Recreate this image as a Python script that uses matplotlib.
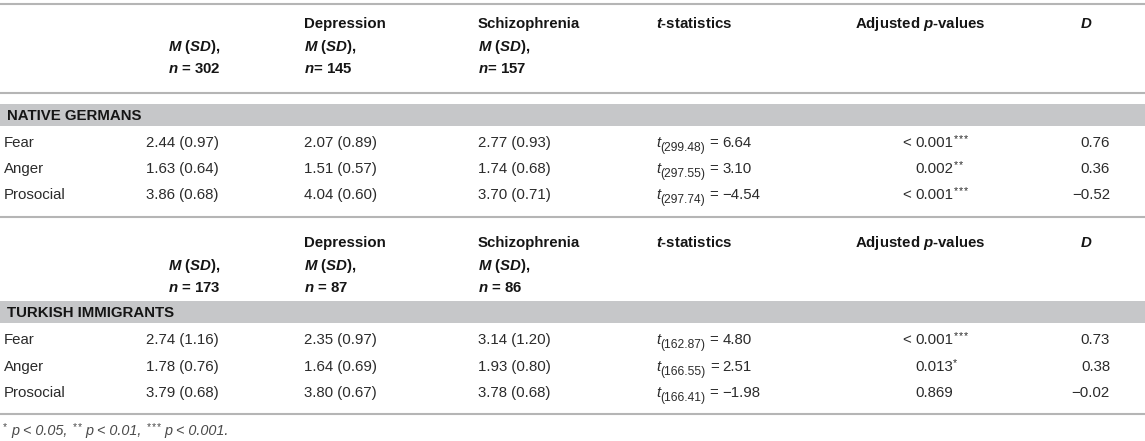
import matplotlib
matplotlib.use('Agg')
import matplotlib.pyplot as plt

# Table content
groups = ['NATIVE GERMANS', 'TURKISH IMMIGRANTS']
measures = ['Fear', 'Anger', 'Prosocial']
col_titles = ['', 'Depression', 'Schizophrenia']

n_german = [302, 145, 157]
n_turkish = [173, 87, 86]
n_eq_german = [' = ', '= ', '= ']
n_eq_turkish = [' = ', ' = ', ' = ']

means_german = [[2.44, 2.07, 2.77], [1.63, 1.51, 1.74], [3.86, 4.04, 3.70]]
sds_german = [[0.97, 0.89, 0.93], [0.64, 0.57, 0.68], [0.68, 0.60, 0.71]]
means_turkish = [[2.74, 2.35, 3.14], [1.78, 1.64, 1.93], [3.79, 3.80, 3.78]]
sds_turkish = [[1.16, 0.97, 1.20], [0.76, 0.69, 0.80], [0.68, 0.67, 0.68]]

df_german = [299.48, 297.55, 297.74]
t_german = [6.64, 3.10, -4.54]
df_turkish = [162.87, 166.55, 166.41]
t_turkish = [4.80, 2.51, -1.98]

p_german = ['< 0.001', '0.002', '< 0.001']
stars_german = ['***', '**', '***']
p_turkish = ['< 0.001', '0.013', '0.869']
stars_turkish = ['***', '*', '']

d_german = [0.76, 0.36, -0.52]
d_turkish = [0.73, 0.38, -0.02]

plt.rcParams['font.family'] = ['Liberation Sans', 'DejaVu Sans']
plt.rcParams['mathtext.fontset'] = 'custom'
plt.rcParams['mathtext.rm'] = 'Liberation Sans'
plt.rcParams['mathtext.it'] = 'Liberation Sans:italic'
plt.rcParams['mathtext.bf'] = 'Liberation Sans:bold'
plt.rcParams['mathtext.bfit'] = 'Liberation Sans:bold:italic'

W, H = 1145, 441
fig = plt.figure(figsize=(W / 100, H / 100), dpi=100)
ax = fig.add_axes([0, 0, 1, 1])
ax.set_xlim(0, W)
ax.set_ylim(H, 0)
ax.axis('off')
rend = fig.canvas.get_renderer()

FS = 10.8
TXT = '#2b2b2b'
HEAD = '#151515'
LINE = '#b5b5b5'
BAND = '#c6c7c9'

# column x positions (pixels)
x_label = 4
x_cols = [146, 304, 478]
x_head1 = 168
x_t = 656
x_p = 915
x_phead = 855
x_d = 1110
x_dhead = 1080


def num(v):
    s = '%.2f' % abs(v)
    return ('\u2212' + s) if v < 0 else s


def hline(y):
    ax.plot([0, W], [y, y], color=LINE, lw=1.5, solid_capstyle='butt')


def txt(x, y, s, **kw):
    # y is the visual centre of the cap height; convert to baseline
    kw.setdefault('fontsize', FS)
    kw.setdefault('color', TXT)
    return ax.text(x, y + 5.4, s, va='baseline', **kw)


def runs(x, y, parts):
    # parts: (text, kwargs, dy, gap_before)
    for s, kw, dy, gap in parts:
        x += gap
        if not s:
            continue
        t = txt(x, y + dy, s, **kw)
        x = t.get_window_extent(rend).x1
    return x


def star_parts(stars, kw, dy, gap):
    # small raised asterisks, drawn one by one so they don't crowd
    return [('*', kw, dy, gap if k == 0 else 1) for k in range(len(stars))]


def section(head_y, band, rows_y, group, n_vals, n_eq, means, sds, dfs, ts, ps, stars, ds):
    y_title, y_msd, y_n = head_y
    for j in range(3):
        xh = x_head1 if j == 0 else x_cols[j]
        if col_titles[j]:
            txt(xh, y_title, col_titles[j], weight='bold', color=HEAD)
        txt(xh, y_msd, r'$\mathbfit{M}$ ($\mathbfit{SD}$),', weight='bold', color=HEAD)
        txt(xh, y_n, r'$\mathbfit{n}$' + n_eq[j] + str(n_vals[j]), weight='bold', color=HEAD)
    txt(x_t, y_title, r'$\mathbfit{t}$-statistics', weight='bold', color=HEAD)
    txt(x_phead, y_title, r'Adjusted $\mathbfit{p}$-values', weight='bold', color=HEAD)
    txt(x_dhead, y_title, r'$\mathbfit{D}$', weight='bold', color=HEAD)

    ax.axhspan(band[0], band[1], color=BAND, lw=0)
    txt(x_label + 3, (band[0] + band[1]) / 2, group, weight='bold', color=HEAD)

    sup = dict(fontsize=FS * 0.72)
    for i, y in enumerate(rows_y):
        txt(x_label, y, measures[i])
        for j in range(3):
            txt(x_cols[j], y, '%.2f (%.2f)' % (means[i][j], sds[i][j]))
        runs(x_t, y, [('t', dict(style='italic'), 0, 0),
                      ('(%.2f)' % dfs[i], dict(fontsize=FS * 0.8), 4, 0.5),
                      ('=', {}, 0, 4),
                      (num(ts[i]), {}, 0, 4)])
        p = ps[i]
        if p.startswith('<'):
            txt(x_p - 4, y, '<', ha='right')
            p = p[2:]
        runs(x_p, y, [(p, {}, 0, 0)] + star_parts(stars[i], sup, -5, 0.5))
        txt(x_d, y, num(ds[i]), ha='right')


hline(4)
section((23, 46, 68), (104, 126), (142, 168, 194), groups[0], n_german, n_eq_german,
        means_german, sds_german, df_german, t_german, p_german, stars_german, d_german)
hline(93)
hline(217)
section((242, 265, 287), (301, 323), (339, 366, 392), groups[1], n_turkish, n_eq_turkish,
        means_turkish, sds_turkish, df_turkish, t_turkish, p_turkish, stars_turkish, d_turkish)
hline(414)

# footnote
fn = dict(style='italic', fontsize=10.4, color='#4a4a4a')
fsup = dict(fontsize=7.4, color='#4a4a4a')
runs(3, 430, star_parts('*', fsup, -5, 0) + [('p < 0.05,', fn, 0, 4)]
     + star_parts('**', fsup, -5, 5) + [('p < 0.01,', fn, 0, 4)]
     + star_parts('***', fsup, -5, 5) + [('p < 0.001.', fn, 0, 4)])

fig.savefig('out.png', dpi=100)
